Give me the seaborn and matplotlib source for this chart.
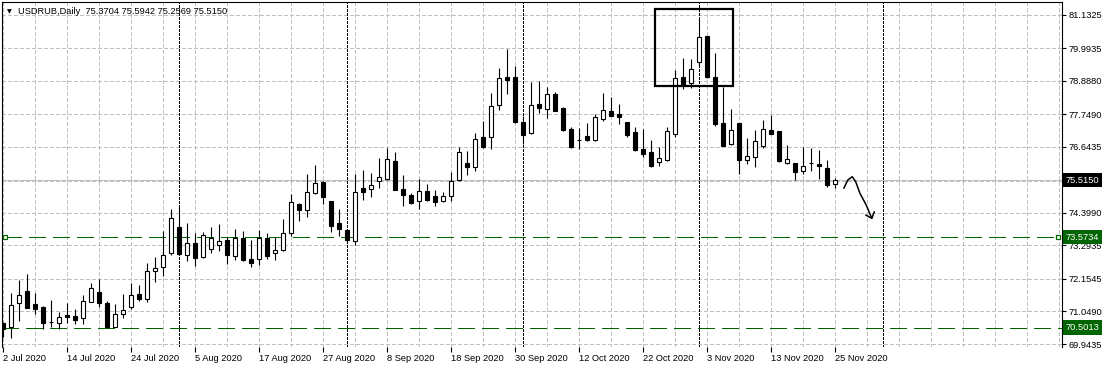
import numpy as np
import pandas as pd
import matplotlib
matplotlib.use("Agg")
import matplotlib.pyplot as plt
import matplotlib.transforms as mtransforms
from matplotlib.patches import Rectangle
import seaborn as sns

# ---------------- data ----------------
symbol = "USDRUB"
timeframe = "Daily"
start_date = "2020-07-02"
end_date = "2020-11-25"

opens = [70.668, 70.512, 71.328, 71.746, 71.294, 71.202, 70.675, 70.648, 70.930, 70.896,
         70.818, 71.382, 71.712, 71.328, 70.532, 70.954, 71.192, 71.634, 71.484, 72.416,
         72.552, 73.028, 73.912, 72.960, 73.368, 72.892, 73.164, 73.300, 73.480, 72.936,
         73.548, 72.824, 72.824, 73.538, 73.028, 73.130, 73.708, 74.695, 74.490, 75.072,
         75.443, 74.797, 74.049, 73.821, 73.436, 75.249, 75.198, 75.497, 75.565, 76.157,
         75.205, 75.011, 74.797, 75.137, 74.967, 74.817, 74.987, 75.531, 76.089, 75.953,
         76.983, 76.973, 78.061, 79.024, 79.024, 77.493, 77.109, 78.095, 77.946, 78.436,
         77.970, 77.266, 76.888, 77.028, 76.891, 77.596, 77.868, 77.765, 77.493, 77.153,
         76.575, 76.473, 76.123, 76.218, 77.102, 79.024, 78.810, 79.524, 80.418, 79.024,
         77.459, 76.755, 77.459, 76.211, 76.313, 76.687, 77.221, 77.177, 76.089, 76.089,
         75.817, 76.095, 76.055, 75.929, 75.3704]
highs = [70.692, 71.678, 72.120, 72.324, 71.678, 71.236, 71.440, 71.032, 71.338, 71.124,
         71.600, 72.028, 72.154, 71.406, 71.294, 71.634, 72.018, 71.940, 72.698, 72.892,
         73.787, 74.535, 74.637, 74.049, 73.719, 73.763, 73.912, 74.025, 73.572, 73.855,
         73.797, 73.480, 73.831, 73.719, 73.583, 74.195, 75.045, 74.739, 75.739, 76.038,
         75.477, 74.814, 74.528, 73.845, 75.735, 75.861, 75.776, 76.269, 76.602, 76.473,
         75.691, 75.079, 75.548, 75.385, 75.171, 75.123, 75.783, 76.643, 76.497, 77.109,
         77.528, 78.490, 79.330, 79.980, 79.388, 77.687, 78.864, 78.888, 78.674, 78.514,
         77.987, 77.334, 77.279, 77.449, 77.755, 78.470, 78.354, 78.095, 77.510, 77.323,
         77.266, 76.881, 76.660, 77.323, 79.269, 79.660, 79.636, 80.996, 80.435, 79.830,
         78.694, 77.936, 77.476, 76.949, 77.211, 77.551, 77.732, 77.187, 76.701, 76.099,
         76.643, 76.619, 76.531, 76.201, 75.5942]
lows = [70.180, 70.137, 70.736, 71.168, 70.964, 70.464, 70.512, 70.444, 70.648, 70.624,
        70.624, 71.355, 71.192, 70.478, 70.522, 70.818, 71.124, 71.416, 71.382, 72.052,
        72.256, 72.980, 73.005, 72.776, 72.606, 72.868, 73.028, 73.096, 72.674, 72.810,
        72.783, 72.572, 72.620, 72.824, 72.800, 73.100, 73.617, 74.137, 74.273, 75.045,
        74.688, 73.753, 73.600, 73.378, 73.327, 74.848, 74.926, 75.259, 75.538, 75.164,
        74.647, 74.698, 74.545, 74.797, 74.647, 74.773, 74.817, 75.504, 75.701, 75.827,
        76.626, 76.575, 77.902, 78.456, 77.460, 76.755, 77.085, 77.789, 77.619, 77.851,
        77.177, 76.626, 76.585, 76.847, 76.864, 77.538, 77.681, 77.436, 77.000, 76.507,
        76.303, 75.953, 76.007, 76.184, 76.990, 78.599, 78.660, 79.398, 78.990, 77.368,
        76.670, 76.711, 75.725, 76.055, 75.973, 76.619, 77.075, 76.123, 76.065, 75.531,
        75.725, 75.837, 75.555, 75.293, 75.2569]
closes = [70.444, 71.260, 71.600, 71.178, 71.124, 70.668, 70.680, 70.852, 70.872, 70.770,
          71.406, 71.838, 71.328, 70.532, 70.954, 71.090, 71.600, 71.464, 72.416, 72.518,
          72.960, 74.218, 73.015, 73.368, 72.878, 73.640, 73.538, 73.457, 72.980, 73.548,
          72.810, 72.708, 73.538, 72.946, 73.130, 73.708, 74.763, 74.490, 75.103, 75.412,
          74.932, 73.967, 73.838, 73.474, 75.103, 75.096, 75.341, 75.613, 76.225, 75.191,
          75.018, 74.749, 75.137, 74.841, 74.783, 74.967, 75.487, 76.463, 75.973, 76.905,
          76.653, 78.038, 78.980, 78.932, 77.493, 77.062, 78.061, 77.980, 78.436, 77.878,
          77.232, 76.653, 76.871, 76.871, 77.653, 77.902, 77.708, 77.674, 77.062, 76.551,
          76.415, 76.007, 76.259, 77.177, 78.980, 78.759, 79.286, 80.374, 79.024, 77.436,
          76.687, 77.211, 76.211, 76.327, 76.847, 77.245, 77.096, 76.167, 76.235, 75.803,
          75.987, 76.100, 76.007, 75.361, 75.5150]

level_upper = 73.5734
level_lower = 70.5013
bid_price = 75.5150
y_tick_values = [81.1325, 79.9935, 78.8880, 77.7490, 76.6435, 75.5040,
                 74.3990, 73.2935, 72.1545, 71.0490, 69.9435]
y_tick_labels = ["81.1325", "79.9935", "78.8880", "77.7490", "76.6435", "",
                 "74.3990", "73.2935", "72.1545", "71.0490", "69.9435"]
future_separator_bars = [110]
label_every = 8
grid_every = 4
future_bars = 28

# annotation drawn on chart (bar index, price)
box_bars = (81.46, 91.29)
box_prices = (78.718, 81.326)
arrow_bars = [105.1, 105.6, 106.16, 106.6, 107.1, 107.9, 108.6]
arrow_prices = [75.239, 75.52, 75.633, 75.453, 75.079, 74.67, 74.218]
arrow_head_bars = [107.84, 108.6, 108.91]
arrow_head_prices = [74.33, 74.218, 74.44]

# ---------------- frame ----------------
dates = pd.bdate_range(start_date, end_date)
df = pd.DataFrame({"date": dates, "open": opens, "high": highs,
                   "low": lows, "close": closes})
df["bar"] = np.arange(len(df))
df["bull"] = df["close"] >= df["open"]
df["body_lo"] = df[["open", "close"]].min(axis=1)
df["body_h"] = (df["close"] - df["open"]).abs().clip(lower=0.004)

sns.set_theme(style="white", rc={"lines.scale_dashes": False})
plt.rcParams["font.family"] = ["Liberation Sans", "DejaVu Sans"]
FS = 6.7
GREEN = "#006400"
GRID = "#c0c0c0"
GRID_LS = (0, (2.2, 1.5))
LW1 = 0.72  # one pixel

W, H = 1107, 368
fig = plt.figure(figsize=(W / 100, H / 100), dpi=100, facecolor="white")
ax_left, ax_right, ax_top, ax_bot = 2, 1062, 1.5, 346.7
ax = fig.add_axes([ax_left / W, 1 - ax_bot / H, (ax_right - ax_left) / W,
                   (ax_bot - ax_top) / H])
ax.set_facecolor("white")

px_per_bar = 8
x0 = -(3 - ax_left) / px_per_bar
ax.set_xlim(x0, x0 + (ax_right - ax_left) / px_per_bar)
ppx = 0.034009
ax.set_ylim(81.1325 - (ax_bot - 15) * ppx, 81.1325 + (15 - ax_top) * ppx)

trans_xdata = mtransforms.blended_transform_factory(ax.transData, ax.transAxes)
trans_ydata = mtransforms.blended_transform_factory(ax.transAxes, ax.transData)

# grid
n_total = len(df) + future_bars
for b in range(0, n_total, grid_every):
    ax.plot([b, b], [0, 1], transform=trans_xdata, color=GRID, lw=LW1,
            ls=GRID_LS, zorder=0, antialiased=False)
for yv in y_tick_values:
    ax.axhline(yv, color=GRID, lw=LW1, ls=GRID_LS, zorder=0, antialiased=False)

# month separators
month_key = df["date"].dt.to_period("M")
seps = [b for b in df.groupby(month_key)["bar"].min().tolist() if b > 0]
seps += future_separator_bars
for b in seps:
    ax.plot([b, b], [0, 1], transform=trans_xdata, color="black", lw=LW1,
            ls=(0, (1.5, 1.0)), zorder=1, antialiased=False)

# bid line
ax.axhline(bid_price, color="#c0c0c0", lw=LW1, zorder=1, antialiased=False)

# support lines
ax.axhline(level_upper, color=GREEN, lw=LW1, ls=(0, (12, 5.4)), zorder=2,
           xmin=(5 - ax_left) / (ax_right - ax_left),
           xmax=(1058 - ax_left) / (ax_right - ax_left), antialiased=False)
ax.axhline(level_lower, color=GREEN, lw=LW1, ls=(0, (12, 5.4)), zorder=2,
           antialiased=False)
for fx in [(5 - ax_left) / (ax_right - ax_left), (1058 - ax_left) / (ax_right - ax_left)]:
    ax.plot([fx], [level_upper], transform=trans_ydata, marker="s", ms=3.0,
            mfc="white", mec=GREEN, mew=0.9, zorder=4, clip_on=False)

# candles: wicks then bodies
ax.vlines(df["bar"], df["low"], df["high"], color="black", lw=0.8, zorder=3)
ax.bar(df["bar"], df["body_h"], bottom=df["body_lo"], width=0.5,
       color=np.where(df["bull"], "white", "black"), edgecolor="black",
       linewidth=0.8, zorder=3.5)

# hand-drawn annotations
ax.add_patch(Rectangle((box_bars[0], box_prices[0]), box_bars[1] - box_bars[0],
                       box_prices[1] - box_prices[0], fill=False, ec="black",
                       lw=1.6, zorder=5))
ax.plot(arrow_bars, arrow_prices, color="black", lw=1.1, zorder=5,
        solid_capstyle="round", solid_joinstyle="round")
ax.plot(arrow_head_bars, arrow_head_prices, color="black", lw=1.1, zorder=5,
        solid_capstyle="round", solid_joinstyle="round")

# axes styling
for s in ["left", "top", "right"]:
    ax.spines[s].set_visible(True)
    ax.spines[s].set_color("black")
    ax.spines[s].set_linewidth(0.8)
ax.spines["bottom"].set_visible(False)

ax.yaxis.tick_right()
ax.set_yticks(y_tick_values)
ax.set_yticklabels(y_tick_labels, fontsize=FS, color="black")
ax.tick_params(axis="y", which="major", direction="out", length=3, width=0.8,
               pad=1.5, colors="black", right=True, left=False)

xt = df["bar"].iloc[::label_every].tolist()
xl = [f"{d.day} {d:%b %Y}" for d in df["date"].iloc[::label_every]]
ax.set_xticks(xt)
ax.set_xticklabels(xl, fontsize=FS, color="black", ha="left")
ax.tick_params(axis="x", which="major", direction="out", length=3.5, width=0.8,
               pad=1.5, colors="black", bottom=True)
ax.grid(False)

# price labels on the right axis
lab_x = (1066 - ax_left) / (ax_right - ax_left)
def price_box(val, fc):
    ax.text(lab_x, val, f"{val:.4f}", transform=trans_ydata, fontsize=FS,
            color="white", ha="left", va="center", zorder=6, clip_on=False,
            bbox=dict(boxstyle="square,pad=0.28", fc=fc, ec="none"))
price_box(bid_price, "black")
price_box(level_upper, GREEN)
price_box(level_lower, GREEN)

# title
o, h, l, c = opens[-1], highs[-1], lows[-1], closes[-1]
fig.text(7 / W, 1 - 11.5 / H, "\u25bc", fontsize=4.5, family="DejaVu Sans",
         va="center", ha="left", color="black")
fig.text(18 / W, 1 - 11 / H, f"{symbol},{timeframe}  {o:.4f} {h:.4f} {l:.4f} {c:.4f}",
         fontsize=FS, va="center", ha="left", color="black")

fig.savefig("out.png", dpi=100, facecolor="white")
